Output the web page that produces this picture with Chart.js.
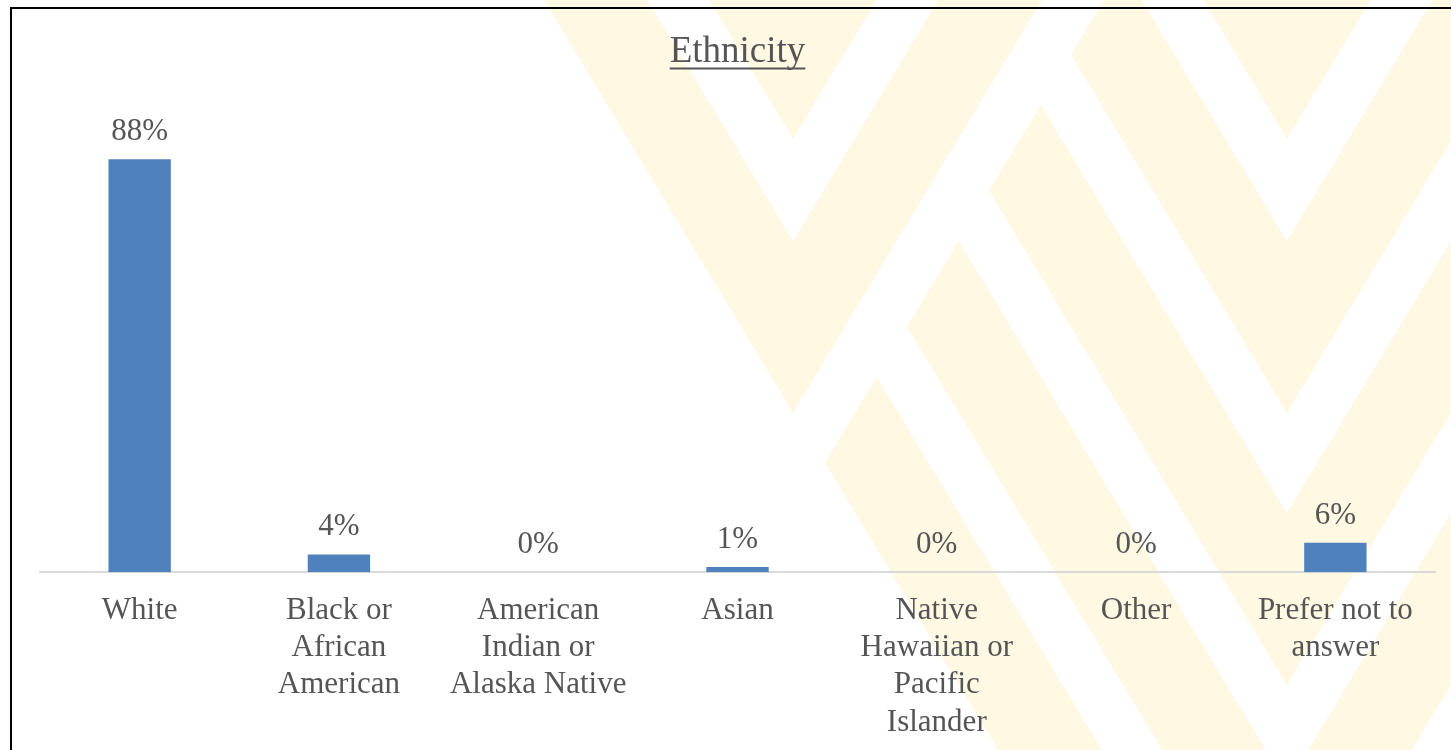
<!DOCTYPE html>
<html>
<head>
<meta charset="utf-8">
<title>Ethnicity</title>
<script src="https://cdn.jsdelivr.net/npm/chart.js@4.4.1/dist/chart.umd.min.js"></script>
<style>
    html, body { margin: 0; padding: 0; background: #ffffff; }
    #wrap { position: relative; width: 1451px; height: 750px; overflow: hidden; }
    #frame {
        position: absolute; left: 10px; top: 7px; width: 1500px; height: 800px;
        border: 2px solid #000000; box-sizing: border-box; pointer-events: none;
    }
</style>
</head>
<body>
<div id="wrap">
    <canvas id="ethnicityChart"></canvas>
    <div id="frame"></div>
</div>
<script>
// --- Data ---
const categories = [
    "White",
    ["Black or", "African", "American"],
    ["American", "Indian or", "Alaska Native"],
    "Asian",
    ["Native", "Hawaiian or", "Pacific", "Islander"],
    "Other",
    ["Prefer not to", "answer"]
];
const percentValues = [88.1, 3.8, 0, 1.1, 0, 0, 6.3];
const axisMax = 100;

// --- Styles ---
const TEXT_COLOR = "#555555";
const BAR_COLOR = "#4F81BD";
const SERIF = "'Liberation Serif', 'Times New Roman', serif";

// ===================================================
// Background watermark (pale nested chevrons)
// ===================================================
const STRIPE_RUN = 0.603;   // horizontal run per vertical px

function fillChevron(ctx, cx, inner, outer) {
    const H = 2000;
    ctx.beginPath();
    ctx.moveTo(cx - STRIPE_RUN * (outer + H), -H);
    ctx.lineTo(cx, outer);
    ctx.lineTo(cx + STRIPE_RUN * (outer + H), -H);
    if (inner !== null) {
        ctx.lineTo(cx + STRIPE_RUN * (inner + H), -H);
        ctx.lineTo(cx, inner);
        ctx.lineTo(cx - STRIPE_RUN * (inner + H), -H);
    }
    ctx.closePath();
    ctx.fill();
}

const watermarkPlugin = {
    id: "watermark",
    beforeDraw: function (chart) {
        const ctx = chart.ctx;
        ctx.save();
        ctx.fillStyle = "#FFF8E3";

        // front chevron
        fillChevron(ctx, 793, null, 139);
        fillChevron(ctx, 793, 241, 413);

        // rear chevron, tucked under the front one
        ctx.beginPath();
        ctx.moveTo(1104 + STRIPE_RUN * 2000, -2000);
        ctx.lineTo(1104 - STRIPE_RUN * 2000, 2000);
        ctx.lineTo(5000, 2000);
        ctx.lineTo(5000, -2000);
        ctx.closePath();
        ctx.clip();
        fillChevron(ctx, 1287, null, 139);
        fillChevron(ctx, 1287, 241, 413);
        fillChevron(ctx, 1287, 513, 685);
        fillChevron(ctx, 1287, 785, 957);
        fillChevron(ctx, 1287, 1057, 1229);
        ctx.restore();
    }
};

// ===================================================
// Value labels above bars + title underline
// ===================================================
const valueLabelPlugin = {
    id: "valueLabels",
    afterDatasetsDraw: function (chart) {
        const ctx = chart.ctx;
        const meta = chart.getDatasetMeta(0);
        ctx.save();
        ctx.font = "31px " + SERIF;
        ctx.fillStyle = TEXT_COLOR;
        ctx.textAlign = "center";
        ctx.textBaseline = "alphabetic";
        meta.data.forEach(function (bar, i) {
            ctx.fillText(Math.round(percentValues[i]) + "%", bar.x, bar.y - 19);
        });
        ctx.restore();
    },
    afterDraw: function (chart) {
        const ctx = chart.ctx;
        const tb = chart.titleBlock;
        ctx.save();
        ctx.font = "37px " + SERIF;
        const w = ctx.measureText("Ethnicity").width;
        const cx = (tb.left + tb.right) / 2;
        const y = tb.top + 38.5;
        ctx.strokeStyle = TEXT_COLOR;
        ctx.lineWidth = 2;
        ctx.beginPath();
        ctx.moveTo(cx - w / 2, y);
        ctx.lineTo(cx + w / 2, y);
        ctx.stroke();
        ctx.restore();
    }
};

// ===================================================
// Chart
// ===================================================
const ctx = document.getElementById("ethnicityChart").getContext("2d");

new Chart(ctx, {
    type: "bar",
    data: {
        labels: categories,
        datasets: [{
            data: percentValues,
            backgroundColor: BAR_COLOR,
            borderWidth: 0,
            barPercentage: 1,
            categoryPercentage: 0.313
        }]
    },
    options: {
        responsive: true,
        maintainAspectRatio: false,
        animation: false,
        events: [],
        layout: { padding: { top: 30, left: 40, right: 16, bottom: -11 } },
        plugins: {
            legend: { display: false },
            tooltip: { enabled: false },
            title: {
                display: true,
                text: "Ethnicity",
                color: TEXT_COLOR,
                font: { family: SERIF, size: 37, weight: "normal", lineHeight: 1.2 },
                padding: { top: 0, bottom: 29 }
            }
        },
        scales: {
            x: {
                grid: { display: false, drawTicks: false },
                border: { display: true, color: "#D9D9D9", width: 2 },
                ticks: {
                    color: TEXT_COLOR,
                    font: { family: SERIF, size: 31, lineHeight: 1.2 },
                    padding: 20,
                    maxRotation: 0,
                    minRotation: 0,
                    autoSkip: false
                }
            },
            y: {
                display: false,
                min: 0,
                max: axisMax
            }
        }
    },
    plugins: [watermarkPlugin, valueLabelPlugin]
});
</script>
</body>
</html>
